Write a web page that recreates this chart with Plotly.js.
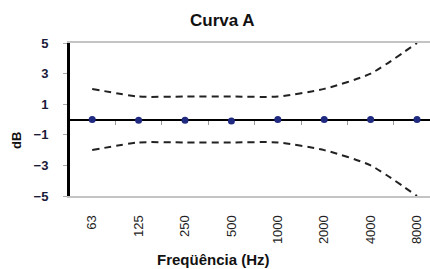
<!DOCTYPE html>
<html><head><meta charset="utf-8">
<script src="https://cdn.plot.ly/plotly-3.0.1.min.js"></script>
<style>html,body{margin:0;padding:0;background:#fff}</style>
</head><body><div id="chart" style="width:430px;height:269px"></div>
<script>
const freqs = ['63','125','250','500','1000','2000','4000','8000'];
const measured = [0, -0.05, -0.05, -0.1, 0, 0, 0, 0];
const upperTol = [2, 1.5, 1.5, 1.5, 1.5, 2, 3, 5];
const lowerTol = [-2, -1.5, -1.5, -1.5, -1.5, -2, -3, -5];
const yTicks = [-5, -3, -1, 1, 3, 5];

const FONT = 'Liberation Sans, Arial, sans-serif';
const dashStyle = {color: '#222', width: 2, dash: '7px,5px', shape: 'spline', smoothing: 0.6};

const traces = [
  {x: freqs, y: upperTol, type: 'scatter', mode: 'lines', line: dashStyle, xaxis: 'x', yaxis: 'y', hoverinfo: 'skip'},
  {x: freqs, y: lowerTol, type: 'scatter', mode: 'lines', line: dashStyle, xaxis: 'x', yaxis: 'y', hoverinfo: 'skip'},
  {x: freqs, y: measured, type: 'scatter', mode: 'markers', marker: {color: '#1f2a80', size: 7}, xaxis: 'x2', yaxis: 'y'}
];

const layout = {
  width: 430, height: 269,
  margin: {l: 69, r: 0, t: 43, b: 73},
  paper_bgcolor: '#fff', plot_bgcolor: '#fff',
  showlegend: false,
  font: {family: FONT, color: '#111'},
  xaxis: {
    type: 'category', categoryorder: 'array', categoryarray: freqs,
    range: [-0.5, 7.28], showgrid: false, zeroline: false,
    showline: true, mirror: true, linecolor: '#c4c4c4', linewidth: 2,
    ticks: '', tickangle: -90, ticklabelstandoff: 12,
    tickfont: {family: FONT, size: 13, color: '#222'}
  },
  xaxis2: {
    type: 'category', categoryorder: 'array', categoryarray: freqs,
    range: [-0.5, 7.28], overlaying: 'x', anchor: 'free', position: 0.5,
    showline: false, showgrid: false, zeroline: false,
    ticks: 'outside', tickson: 'boundaries', ticklen: 4, tickcolor: '#999', tickwidth: 1,
    showticklabels: false
  },
  yaxis: {
    range: [-5, 5], tickvals: yTicks, showgrid: false,
    zeroline: true, zerolinecolor: '#000', zerolinewidth: 2,
    showline: true, linecolor: '#000', linewidth: 2, layer: 'above traces',
    ticks: 'outside', ticklen: 4, tickcolor: '#aaa',
    ticklabelstandoff: 12,
    tickfont: {family: FONT, size: 13, color: '#1a1a3a', weight: 'bold'}
  },
  shapes: [
    {type: 'line', xref: 'paper', yref: 'y', x0: 0, x1: 0, y0: -5, y1: 5, line: {color: '#000', width: 2}, layer: 'above'}
  ],
  annotations: [
    {text: 'Curva A', xref: 'paper', yref: 'paper', x: 0.424, y: 1.15, xanchor: 'center', yanchor: 'middle', showarrow: false,
     font: {family: FONT, size: 17, color: '#111', weight: 'bold'}},
    {text: 'Freqüência (Hz)', xref: 'paper', yref: 'paper', x: 0.399, y: -0.418, xanchor: 'center', yanchor: 'middle', showarrow: false,
     font: {family: FONT, size: 15, color: '#111', weight: 'bold'}},
    {text: 'dB', xref: 'paper', yref: 'paper', x: -0.147, y: 0.366, xanchor: 'center', yanchor: 'middle', textangle: -90, showarrow: false,
     font: {family: FONT, size: 13, color: '#111', weight: 'bold'}}
  ]
};

Plotly.newPlot('chart', traces, layout, {displayModeBar: false, staticPlot: true});
</script></body></html>
